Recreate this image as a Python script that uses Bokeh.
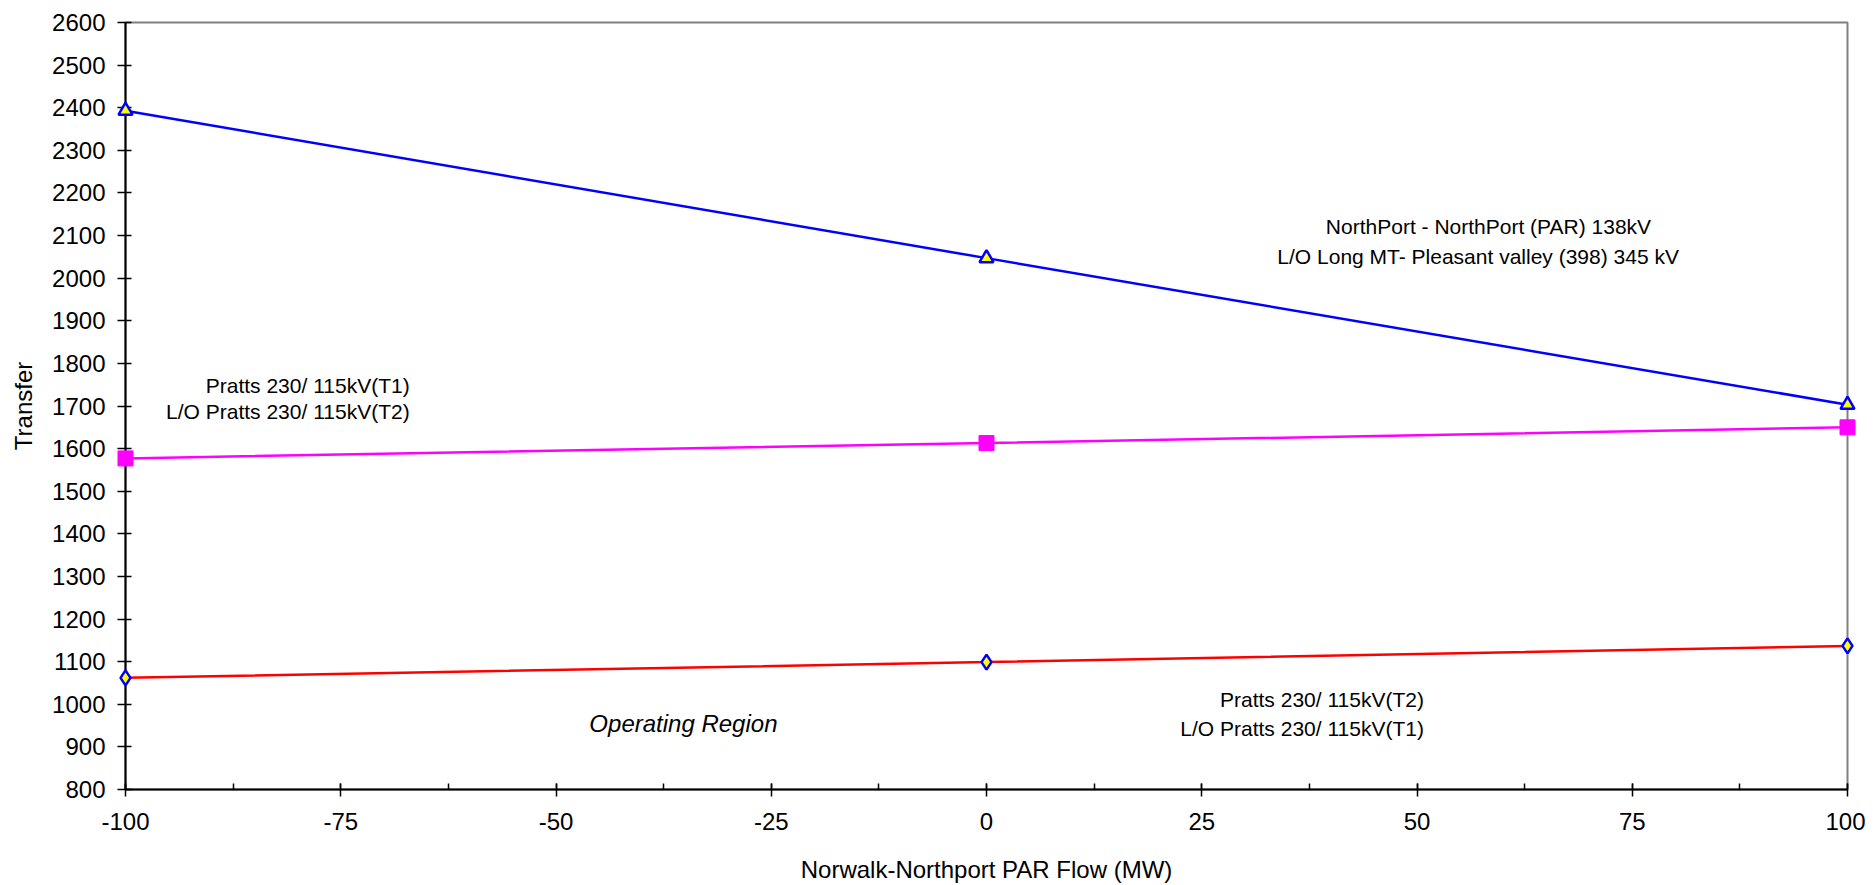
from bokeh.plotting import figure
from bokeh.models import ColumnDataSource, Range1d, SingleIntervalTicker, PrintfTickFormatter
from bokeh.core.properties import value
from bokeh.embed import file_html
from bokeh.resources import INLINE

# ---- data ----
par_flow = [-100, 0, 100]
northport_transfer = [2393, 2047, 1703]   # NorthPort - NorthPort (PAR) 138kV
pratts_t1_transfer = [1577, 1613, 1650]   # Pratts 230/115kV (T1)
pratts_t2_transfer = [1062, 1099, 1137]   # Pratts 230/115kV (T2)

x_label = "Norwalk-Northport PAR Flow (MW)"
y_label = "Transfer"

FONT = "Liberation Sans"

p = figure(width=1865, height=885, output_backend="svg", toolbar_location=None,
           x_range=Range1d(-100, 100), y_range=Range1d(800, 2600),
           min_border_left=125, min_border_right=18, min_border_top=22, min_border_bottom=92)

p.background_fill_color = "white"
p.border_fill_color = "white"
p.outline_line_color = "#808080"
p.outline_line_width = 2
p.xgrid.visible = False
p.ygrid.visible = False

# axes
p.xaxis.ticker = SingleIntervalTicker(interval=25, num_minor_ticks=2)
p.yaxis.ticker = SingleIntervalTicker(interval=100, num_minor_ticks=0)
p.xaxis.formatter = PrintfTickFormatter(format="%d")
p.yaxis.formatter = PrintfTickFormatter(format="%d")
for ax in (p.xaxis, p.yaxis):
    ax.axis_line_color = "black"
    ax.axis_line_width = 2
    ax.major_tick_line_color = "black"
    ax.major_tick_line_width = 1.5
    ax.minor_tick_line_color = "black"
    ax.minor_tick_line_width = 1.5
    ax.major_label_text_font = FONT
    ax.major_label_text_font_size = "24px"
    ax.major_label_text_color = "black"
    ax.axis_label_text_font = FONT
    ax.axis_label_text_font_size = "24px"
    ax.axis_label_text_font_style = "normal"
    ax.axis_label_text_color = "black"

p.xaxis.major_tick_in = 6
p.xaxis.major_tick_out = 7
p.xaxis.minor_tick_in = 6
p.xaxis.minor_tick_out = 0
p.xaxis.major_label_standoff = 16
p.xaxis.axis_label = x_label
p.xaxis.axis_label_standoff = 23

p.yaxis.major_tick_in = 6
p.yaxis.major_tick_out = 8
p.yaxis.major_label_standoff = 12
p.yaxis.axis_label = y_label
p.yaxis.axis_label_standoff = 12

# series
p.line(par_flow, pratts_t2_transfer, line_color="#FF0000", line_width=2.5)
p.line(par_flow, pratts_t1_transfer, line_color="#FF00FF", line_width=2.5)
p.line(par_flow, northport_transfer, line_color="#0000FF", line_width=2.5)

p.scatter(par_flow, pratts_t2_transfer, marker="diamond", size=15,
          fill_color="#FFFF00", line_color="#0000FF", line_width=2.5, level="overlay")
p.scatter(par_flow, pratts_t1_transfer, marker="square", size=15,
          fill_color="#FF00FF", line_color="#FF00FF", line_width=1, level="overlay")
p.scatter(par_flow, northport_transfer, marker="triangle", size=14,
          fill_color="#FFFF00", line_color="#0000FF", line_width=2.5, level="overlay")

# annotations
notes = ColumnDataSource(dict(
    x=[58.3, 57.1, -67.0, -67.0, 50.8, 50.8],
    y=[2121, 2051, 1749, 1687, 1012, 944],
    text=["NorthPort - NorthPort (PAR) 138kV",
          "L/O Long MT- Pleasant valley (398) 345 kV",
          "Pratts 230/ 115kV(T1)",
          "L/O Pratts 230/ 115kV(T2)",
          "Pratts 230/ 115kV(T2)",
          "L/O Pratts 230/ 115kV(T1)"],
    align=["center", "center", "right", "right", "right", "right"],
))
p.text(x="x", y="y", text="text", text_align="align", source=notes,
       text_baseline="middle", text_font=value(FONT), text_font_size="21px",
       text_color="black")

p.text(x=[-35.2], y=[956], text=["Operating Region"], text_align="center",
       text_baseline="middle", text_font=value(FONT), text_font_size="24px",
       text_font_style="italic", text_color="black")

open("out.html", "w").write(file_html(p, INLINE))
